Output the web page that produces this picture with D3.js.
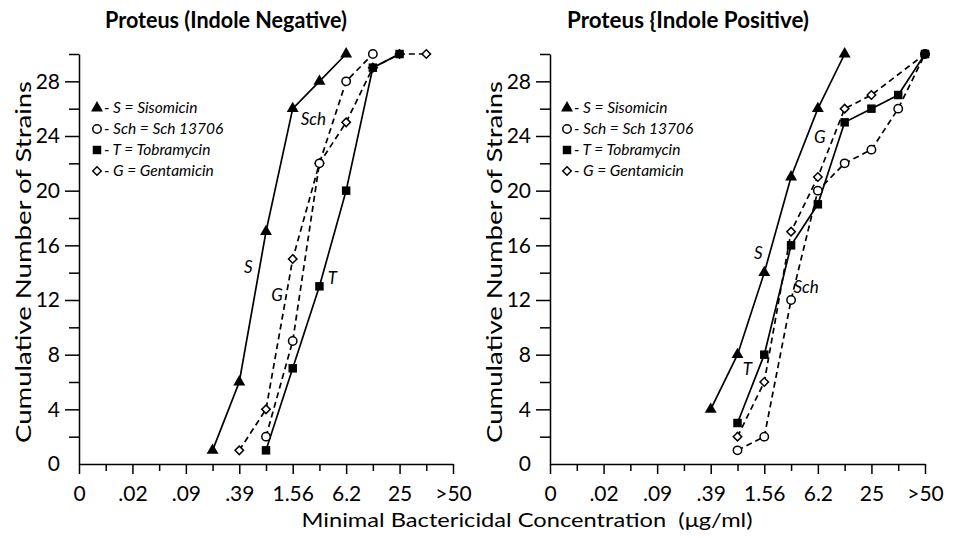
<!DOCTYPE html>
<html>
<head>
<meta charset="utf-8">
<script src="https://cdn.jsdelivr.net/npm/d3@7"></script>
<style>
  html, body { margin: 0; padding: 0; background: #fff; }
  svg { display: block; }
  text { font-family: Lato, "DejaVu Sans", sans-serif; fill: #000; }
</style>
</head>
<body>
<svg id="chart" width="955" height="538"></svg>
<script>
// ---------- DATA ----------
// doubling-dilution categories (µg/ml); only every other one is labelled
const categories = ["0", ".01", ".02", ".04", ".09", ".19", ".39", ".78", "1.56", "3.12", "6.2", "12.5", "25", "50", ">50"];
const tickLabels = ["0", ".02", ".09", ".39", "1.56", "6.2", "25", ">50"];
const yMajorTicks = [0, 4, 8, 12, 16, 20, 24, 28];
const yMinorTicks = [2, 6, 10, 14, 18, 22, 26, 30];

const titles = ["Proteus (Indole Negative)", "Proteus {Indole Positive)"];

// cumulative number of strains per category (null = no point)
// Left: Indole negative
const negSisomicin = [null, null, null, null, null, 1, 6, 17, 26, 28, 30, null, null, null, null];
const negSch       = [null, null, null, null, null, null, null, 2, 9, 22, 28, 30, null, null, null];
const negTobra     = [null, null, null, null, null, null, null, 1, 7, 13, 20, 29, 30, null, null];
const negGenta     = [null, null, null, null, null, null, 1, 4, 15, 22, 25, 29, 30, 30, null];
// Right: Indole positive
const posSisomicin = [null, null, null, null, null, null, 4, 8, 14, 21, 26, 30, null, null, null];
const posSch       = [null, null, null, null, null, null, null, 1, 2, 12, 20, 22, 23, 26, 30];
const posTobra     = [null, null, null, null, null, null, null, 3, 8, 16, 19, 25, 26, 27, 30];
const posGenta     = [null, null, null, null, null, null, null, 2, 6, 17, 21, 26, 27, null, 30];

const legendLabels = ["- S = Sisomicin", "- Sch = Sch 13706", "- T = Tobramycin", "- G = Gentamicin"];

// ---------- DRAW ----------
const svg = d3.select("#chart");
const yTop = 54, yBottom = 464;

const panels = [
  { x0: 79, x1: 453, title: titles[0], titleX: 226,
    series: { S: negSisomicin, Sch: negSch, T: negTobra, G: negGenta },
    legendX: 97,
    notes: [ {t: "Sch", c: "3.12", v: 24.8, dx: -6}, {t: "S", c: ".39", v: 14.0, dx: 9}, {t: "G", c: ".78", v: 11.9, dx: 11}, {t: "T", c: "3.12", v: 13.2, dx: 13} ] },
  { x0: 550, x1: 925, title: titles[1], titleX: 688,
    series: { S: posSisomicin, Sch: posSch, T: posTobra, G: posGenta },
    legendX: 567,
    notes: [ {t: "S", c: "1.56", v: 15.0, dx: -6}, {t: "T", c: ".78", v: 6.5, dx: 10}, {t: "Sch", c: "3.12", v: 12.5, dx: 15}, {t: "G", c: "6.2", v: 23.5, dx: 2} ] }
];

const y = d3.scaleLinear().domain([0, 30]).range([yBottom, yTop]);

const styles = {
  S:   { dash: null,  symbol: "tri" },
  Sch: { dash: "6,4", symbol: "circle" },
  T:   { dash: null,  symbol: "square" },
  G:   { dash: "6,4", symbol: "diamond" }
};

function drawMarker(g, type, cx, cy) {
  if (type === "tri") {
    g.append("path").attr("d", d3.symbol(d3.symbolTriangle, 62)())
      .attr("transform", `translate(${cx},${cy})`).attr("fill", "#000");
  } else if (type === "circle") {
    g.append("circle").attr("cx", cx).attr("cy", cy).attr("r", 4.2)
      .attr("fill", "#fff").attr("stroke", "#000").attr("stroke-width", 1.5);
  } else if (type === "square") {
    g.append("path").attr("d", d3.symbol(d3.symbolSquare, 72)())
      .attr("transform", `translate(${cx},${cy})`).attr("fill", "#000");
  } else {
    g.append("path").attr("d", d3.symbol(d3.symbolSquare, 36)())
      .attr("transform", `translate(${cx},${cy}) rotate(45)`)
      .attr("fill", "#fff").attr("stroke", "#000").attr("stroke-width", 1.5);
  }
}

panels.forEach(p => {
  const x = d3.scalePoint().domain(categories).range([p.x0, p.x1]);
  const g = svg.append("g");

  // title
  g.append("text").attr("x", p.titleX).attr("y", 28).attr("text-anchor", "middle")
    .attr("font-size", 23).attr("font-weight", "bold")
    .attr("textLength", 242).attr("lengthAdjust", "spacingAndGlyphs")
    .text(p.title);

  // x axis: major with labels, minor without
  const xMajor = categories.filter((c, i) => i % 2 === 0);
  const xMinor = categories.filter((c, i) => i % 2 === 1);
  const xa = g.append("g").attr("transform", `translate(0,${yBottom})`)
    .call(d3.axisBottom(x).tickValues(xMajor).tickSize(10).tickSizeOuter(0)
      .tickFormat((d) => tickLabels[xMajor.indexOf(d)]).tickPadding(12));
  xa.selectAll("text").attr("font-size", 21).attr("font-family", "Lato, sans-serif").attr("fill", "#000");
  g.append("g").attr("transform", `translate(0,${yBottom})`)
    .call(d3.axisBottom(x).tickValues(xMinor).tickSize(7).tickFormat(""))
    .select(".domain").remove();

  // y axis
  const ya = g.append("g").attr("transform", `translate(${p.x0},0)`)
    .call(d3.axisLeft(y).tickValues(yMajorTicks).tickSize(14).tickSizeOuter(0).tickPadding(5));
  ya.selectAll("text").attr("font-size", 21).attr("font-family", "Lato, sans-serif").attr("fill", "#000");
  ya.selectAll(".tick").filter(d => d === 0).select("line").remove();
  g.append("g").attr("transform", `translate(${p.x0},0)`)
    .call(d3.axisLeft(y).tickValues(yMinorTicks).tickSize(10).tickFormat(""))
    .select(".domain").remove();
  g.selectAll(".domain, .tick line").attr("stroke", "#000").attr("stroke-width", 1.5);

  // y label
  g.append("text")
    .attr("transform", `translate(${p.x0 - 48},${262}) rotate(-90)`)
    .attr("text-anchor", "middle").attr("font-size", 22)
    .attr("textLength", 362).attr("lengthAdjust", "spacingAndGlyphs")
    .text("Cumulative Number of Strains");

  // series lines
  const order = ["G", "Sch", "T", "S"];
  order.forEach(k => {
    const vals = p.series[k];
    const pts = categories.map((c, i) => [c, vals[i]]).filter(d => d[1] !== null);
    const line = d3.line().x(d => x(d[0])).y(d => y(d[1]));
    g.append("path").attr("d", line(pts)).attr("fill", "none")
      .attr("stroke", "#000").attr("stroke-width", 1.7)
      .attr("stroke-dasharray", styles[k].dash);
  });
  order.forEach(k => {
    const vals = p.series[k];
    categories.forEach((c, i) => {
      if (vals[i] !== null) drawMarker(g, styles[k].symbol, x(c), y(vals[i]));
    });
  });

  // series notes
  p.notes.forEach(n => {
    g.append("text").attr("x", x(n.c) + n.dx).attr("y", y(n.v))
      .attr("font-size", 17).attr("font-style", "italic").attr("text-anchor", "middle")
      .text(n.t);
  });

  // legend
  const keys = ["S", "Sch", "T", "G"];
  const rowY = [108, 129, 150, 171];
  keys.forEach((k, i) => {
    drawMarker(g, styles[k].symbol, p.legendX, rowY[i]);
    g.append("text").attr("x", p.legendX + 7).attr("y", rowY[i] + 5)
      .attr("font-size", 15.5).attr("font-style", "italic")
      .text(legendLabels[i]);
  });
});

// shared x-axis label
svg.append("text").attr("x", 527).attr("y", 527).attr("text-anchor", "middle")
  .attr("font-size", 20).attr("textLength", 451).attr("lengthAdjust", "spacingAndGlyphs")
  .attr("xml:space", "preserve")
  .text("Minimal Bactericidal Concentration  (\u03bcg/ml)");
</script>
</body>
</html>
